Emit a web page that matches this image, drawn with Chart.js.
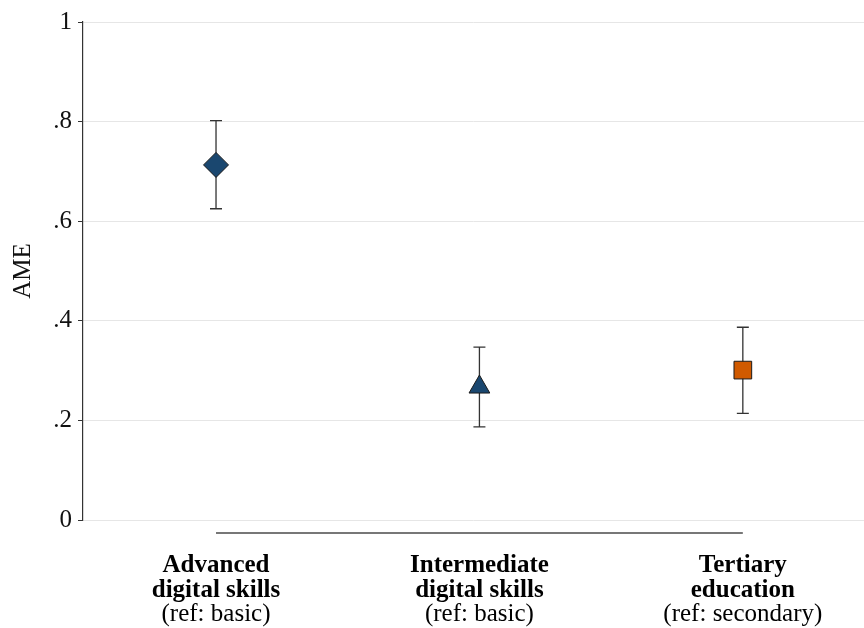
<!DOCTYPE html>
<html>
<head>
<meta charset="utf-8">
<script src="https://cdn.jsdelivr.net/npm/chart.js@4"></script>
<style>
    html, body { margin: 0; padding: 0; background: #fff; }
    #wrap { width: 864px; height: 628px; }
</style>
</head>
<body>
<div id="wrap"><canvas id="chart"></canvas></div>
<script>
// --- Data ---
const categories = ['Advanced digital skills', 'Intermediate digital skills', 'Tertiary education'];
const labelBold = [['Advanced', 'digital skills'], ['Intermediate', 'digital skills'], ['Tertiary', 'education']];
const labelRef = ['(ref: basic)', '(ref: basic)', '(ref: secondary)'];
const catPos = [1, 2, 3];
const ame = [0.713, 0.267, 0.301];
const ciLow = [0.625, 0.187, 0.214];
const ciHigh = [0.802, 0.347, 0.387];
const yTicks = [0, 0.2, 0.4, 0.6, 0.8, 1];
const yTickLabels = ['0', '.2', '.4', '.6', '.8', '1'];

const markerStyles = ['rectRot', 'triangle', 'rect'];
const markerColors = ['#1a476f', '#1a476f', '#d05a00'];
const markerSizes = [12.5, 12, 12.5];

const FONT = "'Liberation Serif', 'Times New Roman', serif";

// error bars behind the markers
const errorBars = {
    id: 'errorBars',
    beforeDatasetsDraw(chart) {
        const { ctx, scales: { x, y } } = chart;
        ctx.save();
        ctx.strokeStyle = '#333';
        ctx.lineWidth = 1.3;
        catPos.forEach((c, i) => {
            const px = x.getPixelForValue(c);
            const top = y.getPixelForValue(ciHigh[i]);
            const bot = y.getPixelForValue(ciLow[i]);
            ctx.beginPath();
            ctx.moveTo(px, top); ctx.lineTo(px, bot);
            ctx.moveTo(px - 6, top); ctx.lineTo(px + 6, top);
            ctx.moveTo(px - 6, bot); ctx.lineTo(px + 6, bot);
            ctx.stroke();
        });
        ctx.restore();
    }
};

// offset x axis line and the category labels
const xAxisLabels = {
    id: 'xAxisLabels',
    afterDraw(chart) {
        const { ctx, chartArea, scales: { x } } = chart;
        const base = chartArea.bottom;
        ctx.save();
        ctx.strokeStyle = '#777';
        ctx.lineWidth = 2;
        ctx.beginPath();
        ctx.moveTo(x.getPixelForValue(catPos[0]), base + 13);
        ctx.lineTo(x.getPixelForValue(catPos[catPos.length - 1]), base + 13);
        ctx.stroke();

        ctx.fillStyle = '#000';
        ctx.textAlign = 'center';
        ctx.textBaseline = 'alphabetic';
        catPos.forEach((c, i) => {
            const px = x.getPixelForValue(c);
            ctx.font = 'bold 25px ' + FONT;
            ctx.fillText(labelBold[i][0], px, base + 52);
            ctx.fillText(labelBold[i][1], px, base + 77);
            ctx.font = '25px ' + FONT;
            ctx.fillText(labelRef[i], px, base + 101);
        });
        ctx.restore();
    }
};

new Chart(document.getElementById('chart'), {
    type: 'scatter',
    data: {
        datasets: [{
            label: 'AME',
            data: catPos.map((c, i) => ({ x: c, y: ame[i] })),
            pointStyle: markerStyles,
            pointRadius: markerSizes,
            backgroundColor: markerColors,
            borderColor: '#1a1a1a',
            borderWidth: 1
        }]
    },
    options: {
        responsive: true,
        maintainAspectRatio: false,
        animation: false,
        layout: { autoPadding: false, padding: { top: 22, bottom: 108, left: 0, right: 0 } },
        plugins: {
            legend: { display: false },
            tooltip: { enabled: false }
        },
        scales: {
            x: {
                type: 'linear',
                min: 0.495,
                max: 3.46,
                display: false
            },
            y: {
                min: 0,
                max: 1,
                afterFit(scale) { scale.width = 83; },
                afterBuildTicks(scale) { scale.ticks = yTicks.map(v => ({ value: v })); },
                ticks: {
                    color: '#111',
                    padding: 6,
                    font: { family: FONT, size: 25 },
                    callback: (v) => yTickLabels[yTicks.indexOf(v)] ?? ''
                },
                grid: {
                    color: '#e6e6e6',
                    lineWidth: 1,
                    tickColor: '#333',
                    tickLength: 5
                },
                border: { display: true, color: '#333', width: 1.2 },
                title: {
                    display: true,
                    text: 'AME',
                    color: '#111',
                    font: { family: FONT, size: 25, lineHeight: 1 },
                    padding: { top: 11, bottom: 0 }
                }
            }
        }
    },
    plugins: [errorBars, xAxisLabels]
});
</script>
</body>
</html>
